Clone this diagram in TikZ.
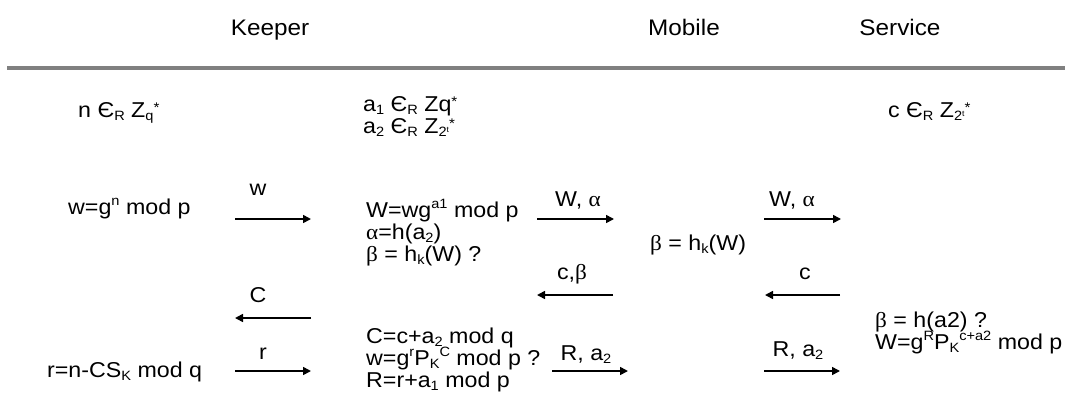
\documentclass[tikz,border=0pt]{standalone}
\usepackage{fontspec}
\setmainfont[FakeStretch=1.08]{Liberation Sans}
\newfontfamily\grk[FakeStretch=1.08]{Liberation Serif}
\usetikzlibrary{arrows.meta}
% lowered / raised small text for indices and exponents
\newcommand{\lo}[1]{\raisebox{-0.18em}{\fontsize{13.5}{13.5}\selectfont #1}}
\newcommand{\hi}[1]{\raisebox{0.4em}{\fontsize{13.5}{13.5}\selectfont #1}}
\newcommand{\st}{\raisebox{0.22em}{\fontsize{14}{14}\selectfont *}}
\newcommand{\elt}{Є\lo{R}}
\newcommand{\Ztwo}{Z\lo{2\raisebox{0.3em}{\fontsize{8}{8}\selectfont t}}\st}
\newcommand{\al}{{\grk α}}
\newcommand{\be}{{\grk β}}
\tikzset{
  txt/.style={inner sep=0pt, anchor=base west, font=\fontsize{21.5}{21.5}\selectfont},
  lbl/.style={inner sep=0pt, anchor=base, font=\fontsize{21.5}{21.5}\selectfont},
  head/.style={inner sep=0pt, anchor=base, font=\fontsize{22.5}{22.5}\selectfont},
  msg/.style={line width=1.6pt, -{Triangle[length=8pt,width=8pt]}}
}
\begin{document}
\begin{tikzpicture}[x=1pt,y=-1pt]
\useasboundingbox (0,0) rectangle (1072,405);

% parties
\node[head] (keeper)  at (270,35) {Keeper};
\node[head] (mobile)  at (684,35) {Mobile};
\node[head] (service) at (900,35) {Service};
\coordinate (rulel) at (7,68);
\coordinate (ruler) at (1065,68);
\draw[line width=3.5pt, gray] (rulel) -- (ruler);

% random choices
\node[txt] (kchoice) at (78,117) {n \elt{} Z\lo{q}\st};
\node[txt] (mchoice1) at (363,111) {a\lo{1} \elt{}  Zq\st};
\node[txt] (mchoice2) at (363,133) {a\lo{2} \elt{}  \Ztwo};
\node[txt] (schoice) at (888,117) {c \elt{}  \Ztwo};

% keeper column
\node[txt] (kw) at (68,214) {w=g\hi{n}  mod p};
\node[txt] (kr) at (47,377) {r=n-CS\lo{K} mod q};

% mobile owner column
\node[txt] (mW)   at (366,217) {W=wg\hi{a1} mod p};
\node[txt] (malp) at (366,239) {\al=h(a\lo{2})};
\node[txt] (mbet) at (366,261) {\be{} = h\lo{k}(W) ?};
\node[txt] (mC)   at (366,343) {C=c+a\lo{2} mod q};
\node[txt] (mw)   at (366,365) {w=g\hi{r}P\lo{K}\hi{C}  mod p ?};
\node[txt] (mR)   at (366,387) {R=r+a\lo{1}  mod p};

% mobile device
\node[txt] (dbet) at (650,250) {\be{} = h\lo{k}(W)};

% service column
\node[txt] (sbet) at (875,327) {\be{} = h(a2) ?};
\node[txt] (sW)   at (875,349) {W=g\hi{R}P\lo{K}\hi{c+a2} mod p};

% message end points
\coordinate (w1) at (235,219);  \coordinate (w2) at (311,219);
\coordinate (a1) at (537,219);  \coordinate (a2) at (614,219);
\coordinate (b1) at (764,219);  \coordinate (b2) at (841,219);
\coordinate (c1) at (613,295);  \coordinate (c2) at (537,295);
\coordinate (d1) at (840,295);  \coordinate (d2) at (765,295);
\coordinate (e1) at (311,318);  \coordinate (e2) at (235,318);
\coordinate (f1) at (235,371);  \coordinate (f2) at (311,371);
\coordinate (g1) at (552,371);  \coordinate (g2) at (628,371);
\coordinate (h1) at (764,371);  \coordinate (h2) at (840,371);

% messages
\draw[msg] (w1) -- (w2);
\draw[msg] (a1) -- (a2);
\draw[msg] (b1) -- (b2);
\draw[msg] (c1) -- (c2);
\draw[msg] (d1) -- (d2);
\draw[msg] (e1) -- (e2);
\draw[msg] (f1) -- (f2);
\draw[msg] (g1) -- (g2);
\draw[msg] (h1) -- (h2);

% message labels
\node[lbl] (lw) at (258,195) {w};
\node[lbl] (la) at (578,206) {W, \al};
\node[lbl] (lb) at (792,206) {W, \al};
\node[lbl] (lc) at (572,279) {c,\be};
\node[lbl] (ld) at (805,279) {c};
\node[lbl] (le) at (258,302) {C};
\node[lbl] (lf) at (263,359) {r};
\node[lbl] (lg) at (586,360) {R, a\lo{2}};
\node[lbl] (lh) at (798,356) {R, a\lo{2}};
\end{tikzpicture}
\end{document}
